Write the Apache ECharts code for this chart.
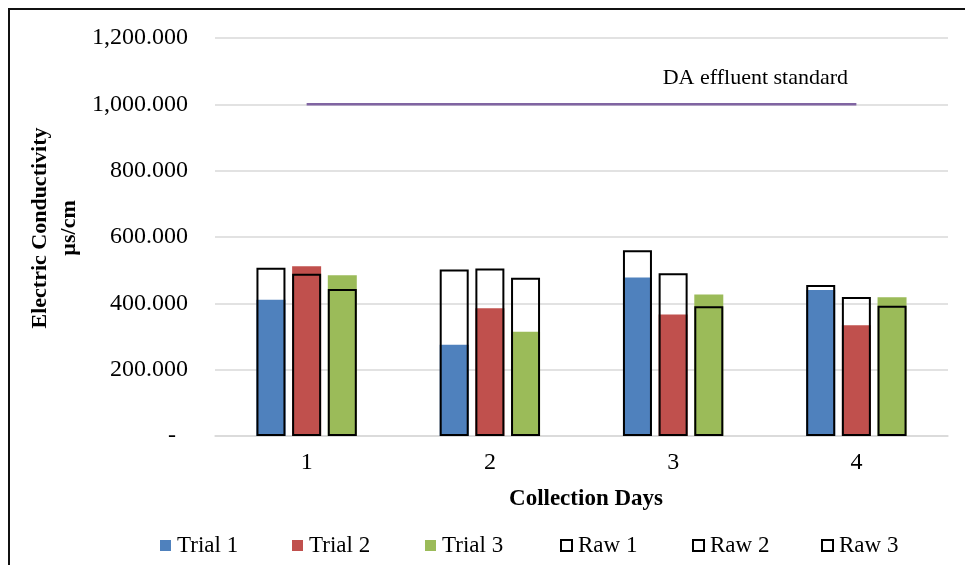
<!DOCTYPE html>
<html>
<head>
<meta charset="utf-8">
<script src="https://cdn.jsdelivr.net/npm/echarts@6/dist/echarts.min.js"></script>
<style>
  html, body { margin: 0; padding: 0; background: #fff; }
  #chart { width: 965px; height: 565px; }
</style>
</head>
<body>
<div id="chart"></div>
<script>
// Collection days on the category axis
const days = ['1', '2', '3', '4'];

// Treated samples (µs/cm)
const trial1 = [411, 275, 478, 440];
const trial2 = [512, 385, 366, 334];
const trial3 = [485, 314, 427, 418];

// Untreated samples (µs/cm)
const raw1 = [507, 502, 560, 455];
const raw2 = [489, 505, 491, 419];
const raw3 = [443, 477, 391, 393];

// Discharge limit
const standardLimit = [1000, 1000, 1000, 1000];

// Value-axis tick labels (accounting style, zero shown as a dash)
const yTickValues = [0, 200, 400, 600, 800, 1000, 1200];
const yTickLabels = ['-  ', '200.000', '400.000', '600.000', '800.000', '1,000.000', '1,200.000'];

// Legend entries
const legendNames = ['Trial 1', 'Trial 2', 'Trial 3', 'Raw 1', 'Raw 2', 'Raw 3'];
const legendLefts = [160, 292, 425, 560, 692, 821];

const FONT = '"Liberation Serif", "Times New Roman", serif';
const colors = { t1: '#4F81BD', t2: '#C0504D', t3: '#9BBB59', line: '#8064A2' };

const barW = 29;
const gap = '23%';

function trialSeries(name, data, color) {
  return {
    name, type: 'bar', xAxisIndex: 0, data,
    barWidth: barW, barGap: gap,
    itemStyle: { color },
    z: 2
  };
}
function rawSeries(name, data) {
  return {
    name, type: 'bar', xAxisIndex: 1, data,
    barWidth: barW, barGap: gap,
    itemStyle: { color: 'rgba(255,255,255,0)', borderColor: '#000', borderWidth: 2 },
    z: 3
  };
}

const chart = echarts.init(document.getElementById('chart'), null, { renderer: 'canvas' });

chart.setOption({
  animation: false,
  backgroundColor: '#fff',
  textStyle: { fontFamily: FONT, color: '#000' },
  grid: { left: 215, right: 17, top: 38, bottom: 129, containLabel: false },
  legend: legendNames.map((name, i) => ({
    data: [name],
    left: legendLefts[i], top: 534, padding: 0,
    icon: 'rect', itemWidth: 11, itemHeight: 11,
    textStyle: { fontFamily: FONT, fontSize: 23, color: '#000', padding: [0, 0, 0, 1] }
  })),
  xAxis: [
    {
      type: 'category', data: days,
      axisLine: { show: true, lineStyle: { color: '#d9d9d9', width: 1.5 } },
      axisTick: { show: false },
      axisLabel: { fontFamily: FONT, fontSize: 24, color: '#000', margin: 15 },
      name: 'Collection Days', nameLocation: 'middle', nameGap: 52,
      nameTextStyle: { fontFamily: FONT, fontSize: 23, fontWeight: 'bold', color: '#000', padding: [0, 0, 0, 9] }
    },
    { type: 'category', data: days, show: false }
  ],
  yAxis: {
    type: 'value', min: 0, max: 1200, interval: 200,
    axisLine: { show: false }, axisTick: { show: false },
    splitLine: { lineStyle: { color: '#d9d9d9', width: 1.5 } },
    axisLabel: {
      fontFamily: FONT, fontSize: 24, color: '#000', margin: 27,
      formatter: v => yTickLabels[yTickValues.indexOf(v)]
    }
  },
  graphic: [
    {
      type: 'rect', x: 9, y: 9, silent: true,
      shape: { x: 0, y: 0, width: 1000, height: 600 },
      style: { fill: 'none', stroke: '#111', lineWidth: 2 }
    },
    {
      type: 'text', x: 55, y: 228, rotation: Math.PI / 2, silent: true,
      style: {
        text: 'Electric Conductivity\nµs/cm',
        font: 'bold 22px ' + FONT, fill: '#000',
        align: 'center', verticalAlign: 'middle', lineHeight: 29
      }
    }
  ],
  series: [
    trialSeries('Trial 1', trial1, colors.t1),
    trialSeries('Trial 2', trial2, colors.t2),
    trialSeries('Trial 3', trial3, colors.t3),
    rawSeries('Raw 1', raw1),
    rawSeries('Raw 2', raw2),
    rawSeries('Raw 3', raw3),
    {
      name: 'DA effluent standard', type: 'line', xAxisIndex: 0,
      data: standardLimit.map((v, i) => i === standardLimit.length - 1
        ? { value: v, label: { show: true, position: 'top', offset: [-101, -10], formatter: '{a}',
            fontFamily: FONT, fontSize: 22, color: '#000' } }
        : v),
      showSymbol: true, symbol: 'circle', symbolSize: 0.1,
      itemStyle: { color: 'rgba(0,0,0,0)' },
      lineStyle: { color: colors.line, width: 2.5 },
      z: 4
    }
  ]
});
</script>
</body>
</html>
